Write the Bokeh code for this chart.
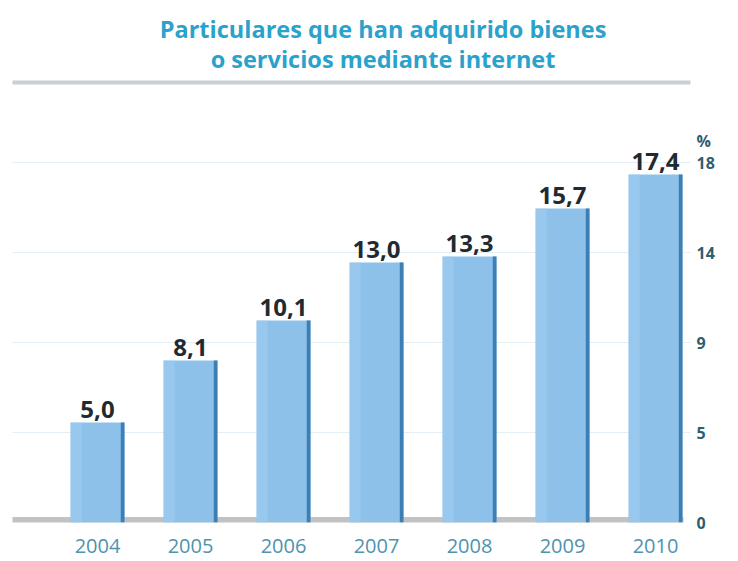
from bokeh.plotting import figure
from bokeh.models import Range1d, FixedTicker
from bokeh.core.properties import value
from bokeh.embed import file_html
from bokeh.resources import INLINE

years = ["2004", "2005", "2006", "2007", "2008", "2009", "2010"]
values = [5.0, 8.1, 10.1, 13.0, 13.3, 15.7, 17.4]
y_ticks = [0, 4.5, 9, 13.5, 18]
y_tick_labels = ["0", "5", "9", "14", "18"]
unit_label = "%"
unit_pos = 19.1
title_lines = ["Particulares que han adquirido bienes", "o servicios mediante internet"]

xs = list(range(len(years)))
labels = [f"{v:.1f}".replace(".", ",") for v in values]
FONT = value("Open Sans")

p = figure(width=730, height=560, output_backend="svg", toolbar_location=None,
           x_range=Range1d(-0.914, 6.376), y_range=Range1d(0, 26.1),
           y_axis_location="right", min_border_left=12, min_border_right=40,
           min_border_top=0, min_border_bottom=38)
p.outline_line_color = None
p.background_fill_color = "white"

# grid
p.xgrid.grid_line_color = None
p.ygrid.ticker = FixedTicker(ticks=y_ticks)
p.ygrid.grid_line_color = "#dcebf2"
p.ygrid.grid_line_alpha = 0.8

# base shadow
p.segment(x0=[-0.95], y0=[0.12], x1=[6.3], y1=[0.12], line_color="#8e9092",
          line_width=6, line_alpha=0.55)

# bars
bw = 0.58
p.vbar(x=xs, top=values, width=bw, bottom=0, fill_color="#8dc1ea", line_color=None)
p.vbar(x=[x - bw / 2 + 0.06 for x in xs], top=values, width=0.12, bottom=0,
       fill_color="#a4d0f2", line_color=None, fill_alpha=0.5)
p.vbar(x=[x + bw / 2 - 0.02 for x in xs], top=values, width=0.04, bottom=0,
       fill_color="#3c7fb4", line_color=None)

# value labels
p.text(x=xs, y=values, text=labels, text_align="center", text_baseline="bottom",
       y_offset=-5, text_font_size="24px", text_font_style="bold",
       text_color="#1f2a31", text_font=FONT)

# title
p.text(x=[3.07, 3.07], y=[24.7, 23.2], text=title_lines, text_align="center",
       text_baseline="middle", text_font_size="23.5px", text_font_style="bold",
       text_color="#2aa2cb", text_font=FONT)
p.segment(x0=[-0.95], y0=[22.0], x1=[6.5], y1=[22.0], line_color="#c9d0d5", line_width=4)

# axes
p.xaxis.ticker = FixedTicker(ticks=xs)
p.xaxis.major_label_overrides = {x: y for x, y in zip(xs, years)}
p.xaxis.axis_line_color = None
p.xaxis.major_tick_line_color = None
p.xaxis.minor_tick_line_color = None
p.xaxis.major_label_standoff = 10
p.xaxis.major_label_text_font_size = "20px"
p.xaxis.major_label_text_color = "#4f93ad"
p.xaxis.major_label_text_font = "Open Sans"

p.yaxis.ticker = FixedTicker(ticks=y_ticks + [unit_pos])
overrides = {t: l for t, l in zip(y_ticks, y_tick_labels)}
overrides[unit_pos] = unit_label
p.yaxis.major_label_overrides = overrides
p.yaxis.axis_line_color = None
p.yaxis.major_tick_line_color = None
p.yaxis.minor_tick_line_color = None
p.yaxis.major_label_standoff = 0
p.yaxis.major_label_text_font_size = "16px"
p.yaxis.major_label_text_font_style = "bold"
p.yaxis.major_label_text_color = "#2f5d72"
p.yaxis.major_label_text_font = "Open Sans"

open("out.html", "w").write(file_html(p, INLINE))
